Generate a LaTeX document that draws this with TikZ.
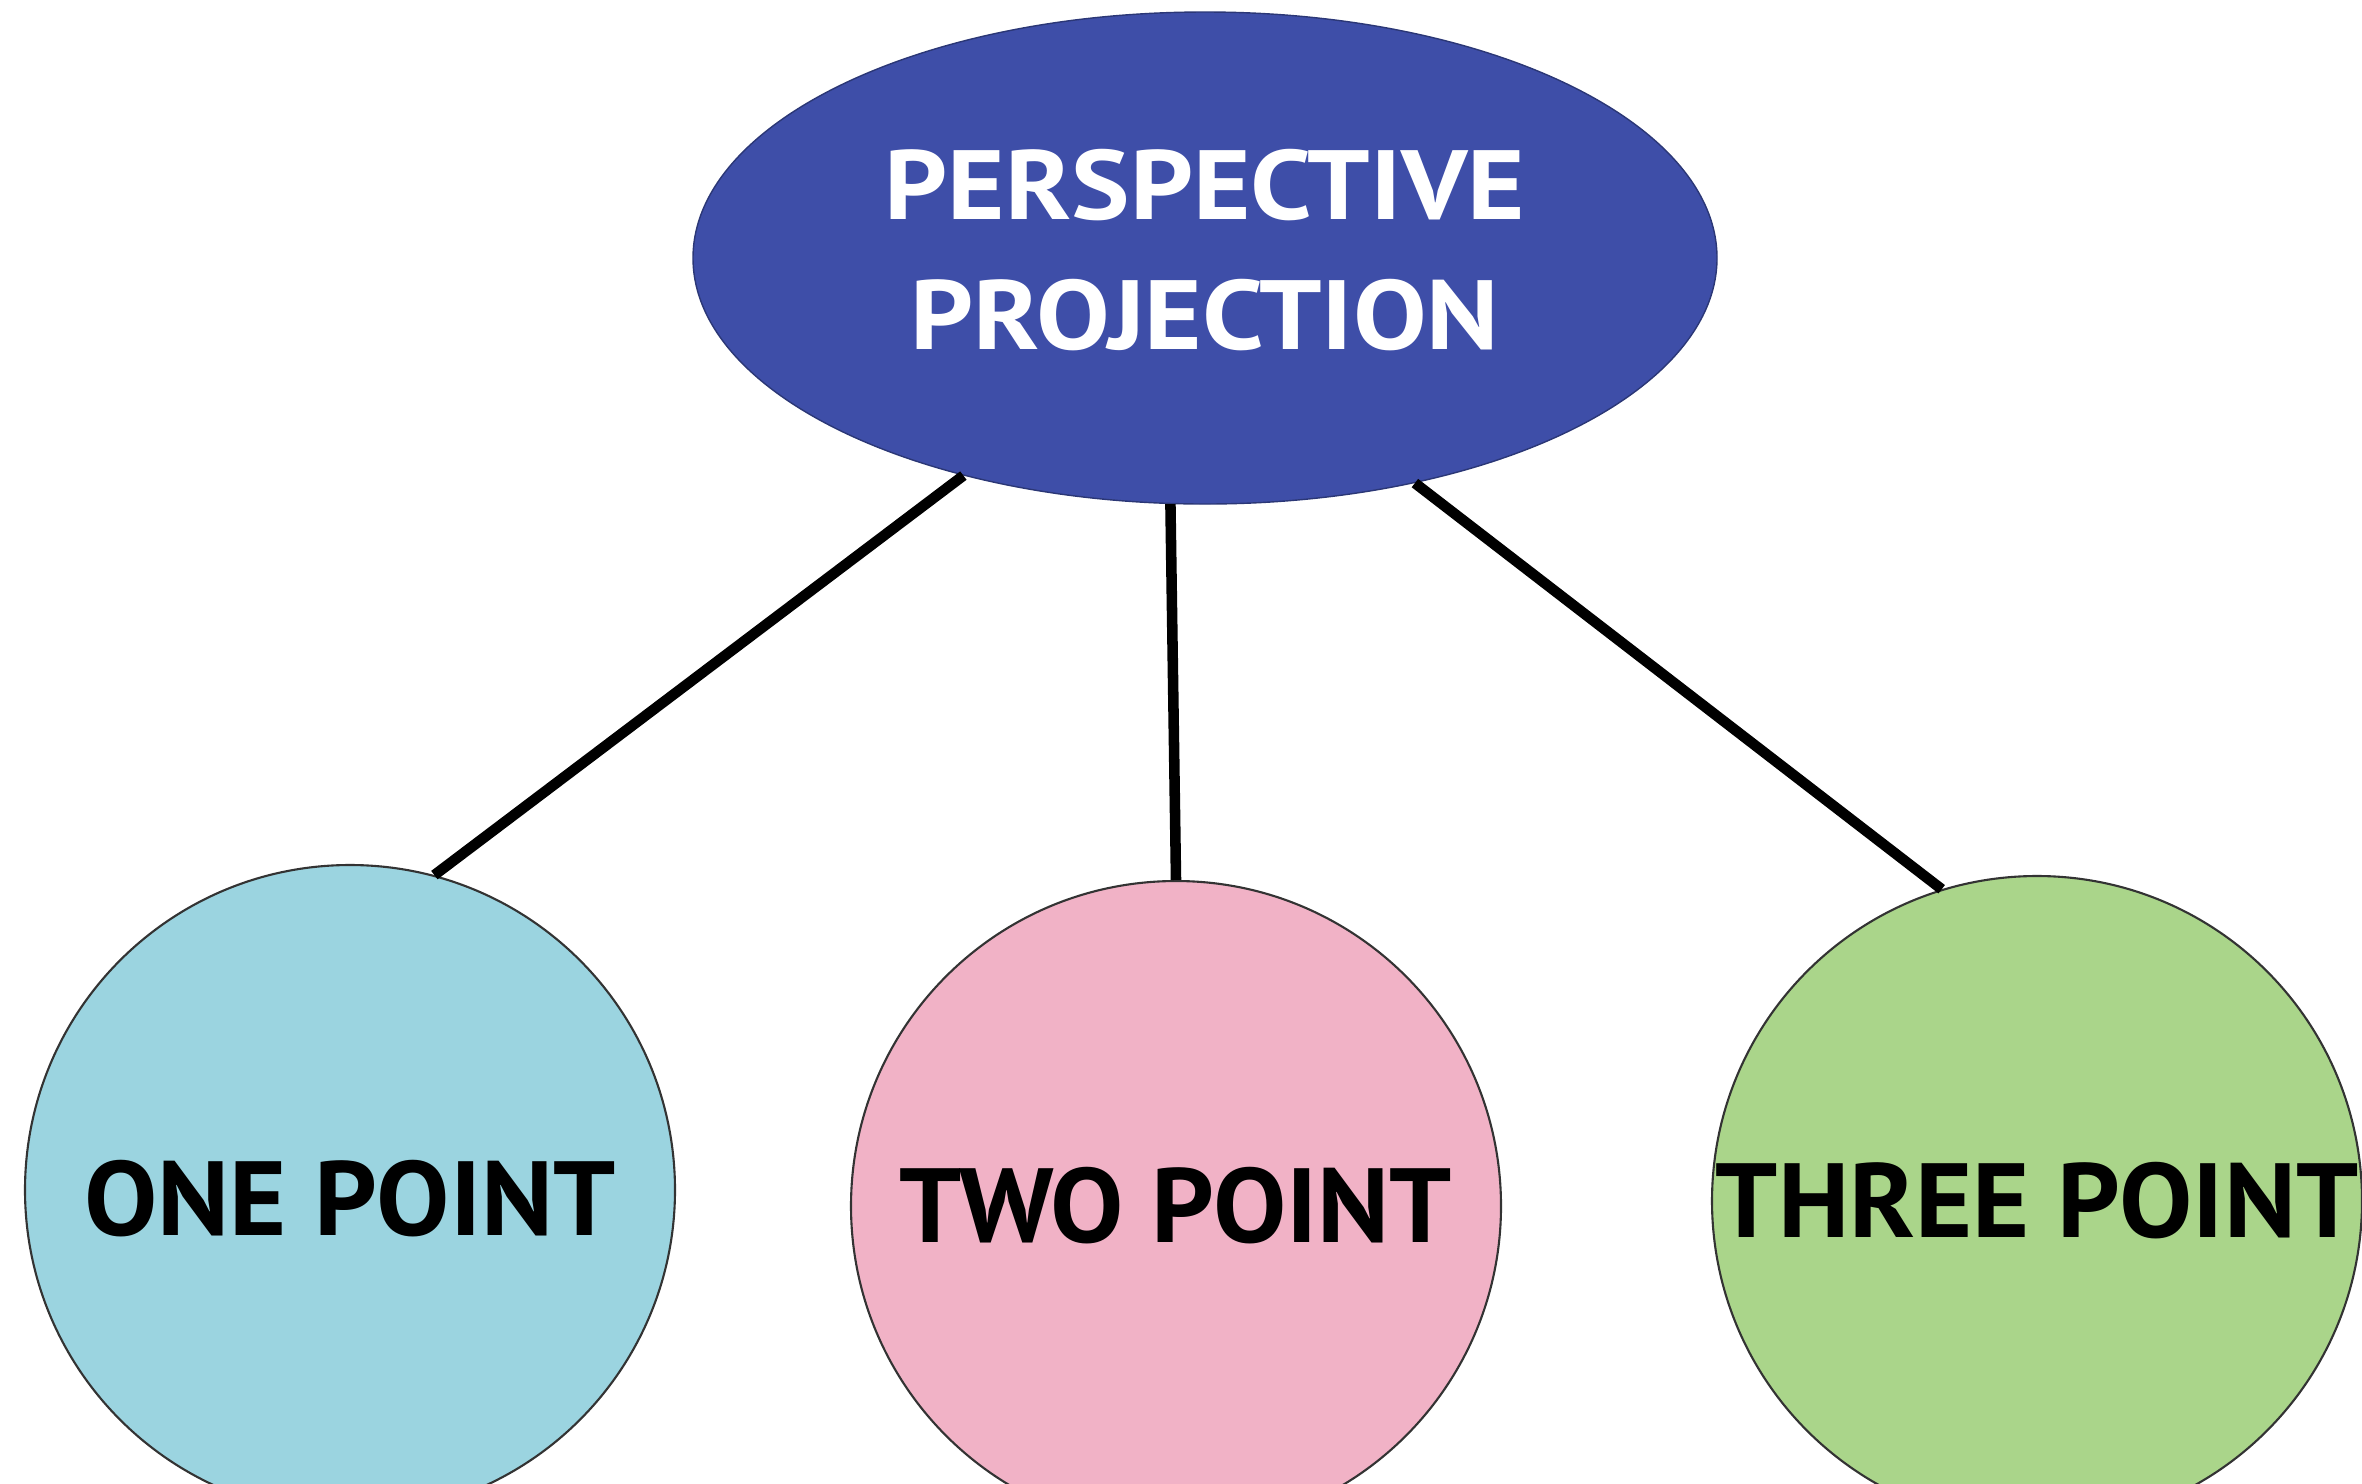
\documentclass[tikz,border=0pt]{standalone}
\usepackage{fontspec}
\setmainfont{PT Sans}
\newfontfamily\rootfont{PT Sans}[FakeStretch=1.12]
\newfontfamily\kindfont{PT Sans}[FakeStretch=1.04]
\usetikzlibrary{shapes.geometric}
\definecolor{rootblue}{RGB}{62,78,168}
\definecolor{onecyan}{RGB}{155,212,224}
\definecolor{twopink}{RGB}{241,178,198}
\definecolor{threegreen}{RGB}{170,213,138}

\begin{document}
\begin{tikzpicture}[
  every node/.style={align=center},
  root/.style={ellipse, draw=rootblue!70!black, fill=rootblue, text=white, minimum width=10.24cm, minimum height=4.92cm, inner sep=0pt, font=\rootfont\bfseries\fontsize{28}{37}\selectfont},
  kind/.style={circle, draw=black!80, line width=0.6pt, minimum size=6.5cm, inner sep=0pt, font=\kindfont\bfseries\fontsize{30}{36}\selectfont},
  link/.style={line width=3pt}
]
\useasboundingbox (0,0) rectangle (23.62,-14.83);

\node[root] (PP) at (12.05,-2.58) {\raisebox{0.09cm}{\begin{tabular}{@{}c@{}}PERSPECTIVE\\PROJECTION\end{tabular}}};

\node[kind, fill=onecyan] (ONE) at (3.50,-11.90) {\raisebox{-0.09cm}[\height][\depth]{ONE POINT}};
\node[kind, fill=twopink] (TWO) at (11.76,-12.06) {TWO POINT};
\node[kind, fill=threegreen] (THREE) at (20.37,-12.01) {THREE POINT};

\draw[link] (PP.222) -- (ONE.75);
\draw[link] (PP.262) -- (TWO.90);
\draw[link] (PP.313) -- (THREE.107);
\end{tikzpicture}
\end{document}
